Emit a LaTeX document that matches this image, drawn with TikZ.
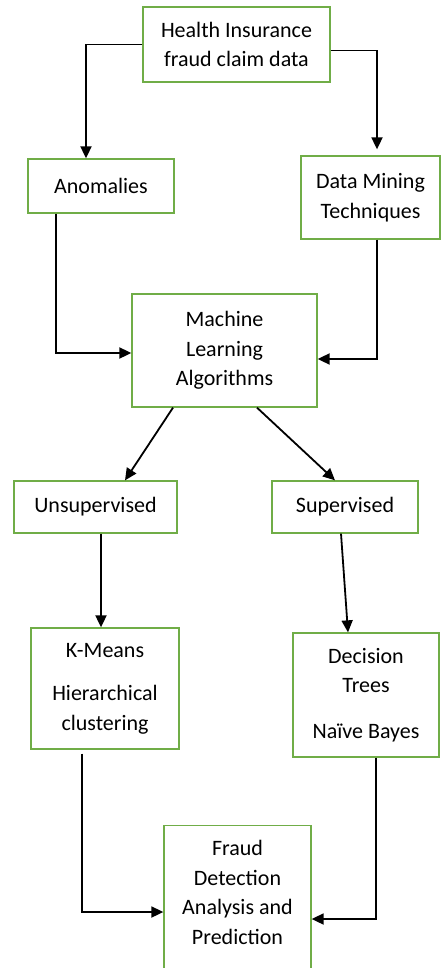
\documentclass[tikz,border=0pt]{standalone}
\usepackage{fontspec}
\setmainfont{Carlito}
\usetikzlibrary{positioning, arrows.meta}
\definecolor{boxgreen}{RGB}{112,173,71}
\tikzset{
->, % every connector gets a head
>={Triangle[length=12pt, width=11pt]}, % filled triangle heads
x=1pt, y=-1pt, % measure in points, downwards
block/.style={draw=boxgreen, line width=1.3pt, align=center, inner sep=4pt, font=\fontsize{22}{29.5}\selectfont}, % green boxes
}
\begin{document}
\begin{tikzpicture}[line width=1.8pt]
        \useasboundingbox (0,0) rectangle (442,968);

        \node[block, minimum width=187pt, minimum height=75pt] (health) at (236.5,44.5) {Health Insurance\\fraud claim data};
        \node[block, minimum width=146pt, minimum height=54pt] (anomalies) at (101,186) {Anomalies};
        \node[block, minimum width=139pt, minimum height=83pt] (mining) at (370.5,197.5) {Data Mining\\Techniques};
        \node[block, minimum width=185pt, minimum height=113pt] (ml) at (224.5,350.5) {Machine\\Learning\\Algorithms};
        \node[block, minimum width=163pt, minimum height=52pt] (unsup) at (95.5,507) {Unsupervised};
        \node[block, minimum width=146pt, minimum height=52pt] (sup) at (345,507) {Supervised};
        \node[block, minimum width=148pt, minimum height=121pt] (kmeans) at (105,688.5) {K-Means\\[14pt]Hierarchical\\clustering};
        \node[block, minimum width=146pt, minimum height=124pt] (dtree) at (366,695) {Decision\\Trees\\[16pt]Naïve Bayes};
        \node[block, anchor=north, inner sep=15pt] (fraud) at (237.5,825) {\parbox[t][150pt][t]{117pt}{\centering Fraud\\Detection\\Analysis and\\Prediction}};

        \draw (health.west) -| ([xshift=-15pt]anomalies.north);
        \draw ([yshift=-6pt]health.east) -| ([xshift=6.5pt, yshift=6pt]mining.north);
        \draw ([xshift=-45pt]anomalies.south) |- ([yshift=-2.5pt]ml.west);
        \draw ([xshift=6.5pt]mining.south) |- ([yshift=-8.5pt]ml.east);
        \draw ([xshift=-51.5pt]ml.south) -- ([xshift=29.5pt]unsup.north);
        \draw ([xshift=32.5pt]ml.south) -- ([xshift=-10pt]sup.north);
        \draw ([xshift=5.5pt]unsup.south) -- ([xshift=-4pt]kmeans.north);
        \draw ([xshift=-4pt]sup.south) -- ([xshift=-18pt]dtree.north);
        \draw ([xshift=-23pt, yshift=-4pt]kmeans.south) |- ([yshift=-87pt]fraud.north west);
        \draw ([xshift=10pt]dtree.south) |- ([yshift=-94pt]fraud.north east);
    \end{tikzpicture}
\end{document}
